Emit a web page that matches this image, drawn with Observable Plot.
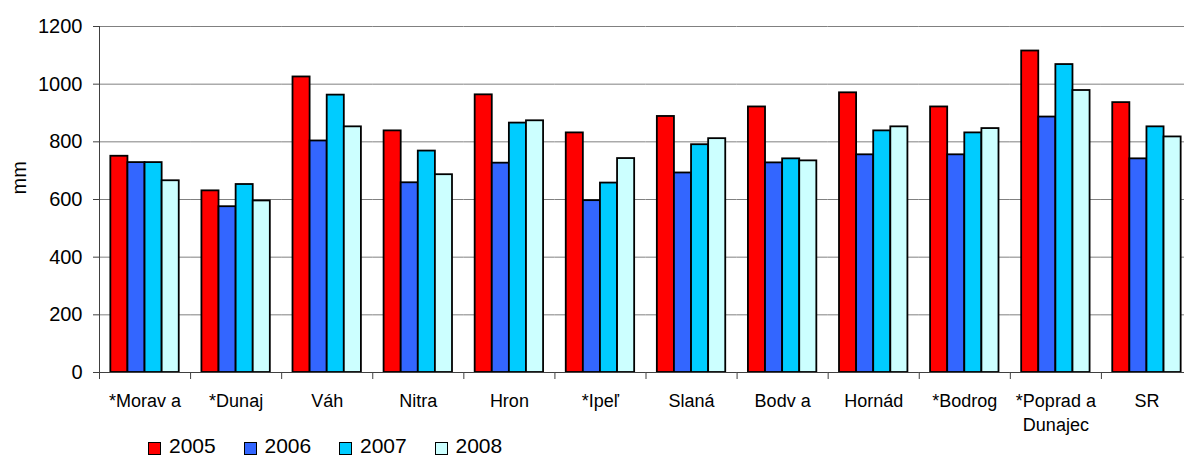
<!DOCTYPE html>
<html><head><meta charset="utf-8">
<script src="https://cdn.jsdelivr.net/npm/d3@7"></script>
<script src="https://cdn.jsdelivr.net/npm/@observablehq/plot@0.6"></script>
<style>
html,body{margin:0;padding:0;background:#fff;overflow:hidden}
body{position:relative;width:1184px;height:457px}
#legend{position:absolute;left:0;top:435px;width:1184px;height:22px;font-family:'Liberation Sans',Arial,sans-serif;font-size:21px;color:#000}
.item{position:absolute;top:0;height:22px}
.sw{position:absolute;left:0;top:7px;width:13px;height:13px;box-sizing:border-box;border:1.5px solid #000}
.lb{position:absolute;left:21px;top:0;line-height:22px;white-space:nowrap}
</style></head><body>
<div id="chart"></div><div id="legend"></div>
<script>
const categories = ["*Morav a","*Dunaj","Váh","Nitra","Hron","*Ipeľ","Slaná","Bodv a","Hornád","*Bodrog","*Poprad a Dunajec","SR"];
const years = ["2005","2006","2007","2008"];
const v2005 = [750, 630, 1025, 838, 963, 831, 888, 921, 970, 921, 1115, 936];
const v2006 = [728, 575, 803, 658, 726, 596, 692, 727, 755, 755, 886, 741];
const v2007 = [728, 652, 962, 768, 865, 657, 790, 741, 838, 831, 1068, 852];
const v2008 = [665, 595, 852, 686, 873, 742, 811, 734, 852, 846, 978, 817];
const colors = ["#ff0000", "#3366ff", "#00ccff", "#ccffff"];
const yTicks = [0, 200, 400, 600, 800, 1000, 1200];
const yLabel = "mm";

const series = [v2005, v2006, v2007, v2008];
const rows = categories.flatMap((c, i) => years.map((y, j) => ({category: c, year: y, value: series[j][i]})));

const chart = Plot.plot({
  width: 1184,
  height: 440,
  marginTop: 26,
  marginBottom: 68,
  marginLeft: 99,
  marginRight: 0,
  style: {fontFamily: "'Liberation Sans', Arial, sans-serif", background: "transparent", color: "#000"},
  fx: {domain: categories, range: [99, 1192], padding: 0, round: false, label: null},
  x: {domain: years, paddingInner: 0, paddingOuter: 0.663, round: false, axis: null},
  y: {domain: [0, 1200], label: null},
  color: {domain: years, range: colors},
  marks: [
    Plot.gridY(yTicks, {stroke: "#808080", strokeOpacity: 1}),
    Plot.barY(rows, {fx: "category", x: "year", y: "value", fill: "year", stroke: "#000", strokeWidth: 1.8}),
    Plot.ruleY([0], {stroke: "#404040"}),
    Plot.frame({anchor: "left", insetTop: 346, insetBottom: -6, stroke: "#404040"}),
    Plot.frame({anchor: "left", facetAnchor: "left", insetBottom: -6, stroke: "#404040"}),
    Plot.axisY({ticks: yTicks, tickSize: 6, tickPadding: 11, fontSize: 20, label: null, stroke: "#404040",
      tickFormat: d3.format("d")}),
    Plot.axisFx({anchor: "bottom", tickSize: 0, tickPadding: 18, fontSize: 18, lineHeight: 1.3, label: null,
      tickFormat: d => d.replace(" Dunajec", "\nDunajec")}),
    Plot.text([yLabel], {frameAnchor: "left", facetAnchor: "left", dx: -80, dy: -5, rotate: -90, fontSize: 20})
  ]
});
document.getElementById("chart").append(chart);

const legend = document.getElementById("legend");
years.forEach((y, i) => {
  const item = document.createElement("div");
  item.className = "item";
  item.style.left = (148 + 95.5 * i) + "px";
  const sw = document.createElement("div");
  sw.className = "sw";
  sw.style.background = colors[i];
  const lb = document.createElement("div");
  lb.className = "lb";
  lb.textContent = y;
  item.append(sw, lb);
  legend.append(item);
});
</script>
</body></html>
